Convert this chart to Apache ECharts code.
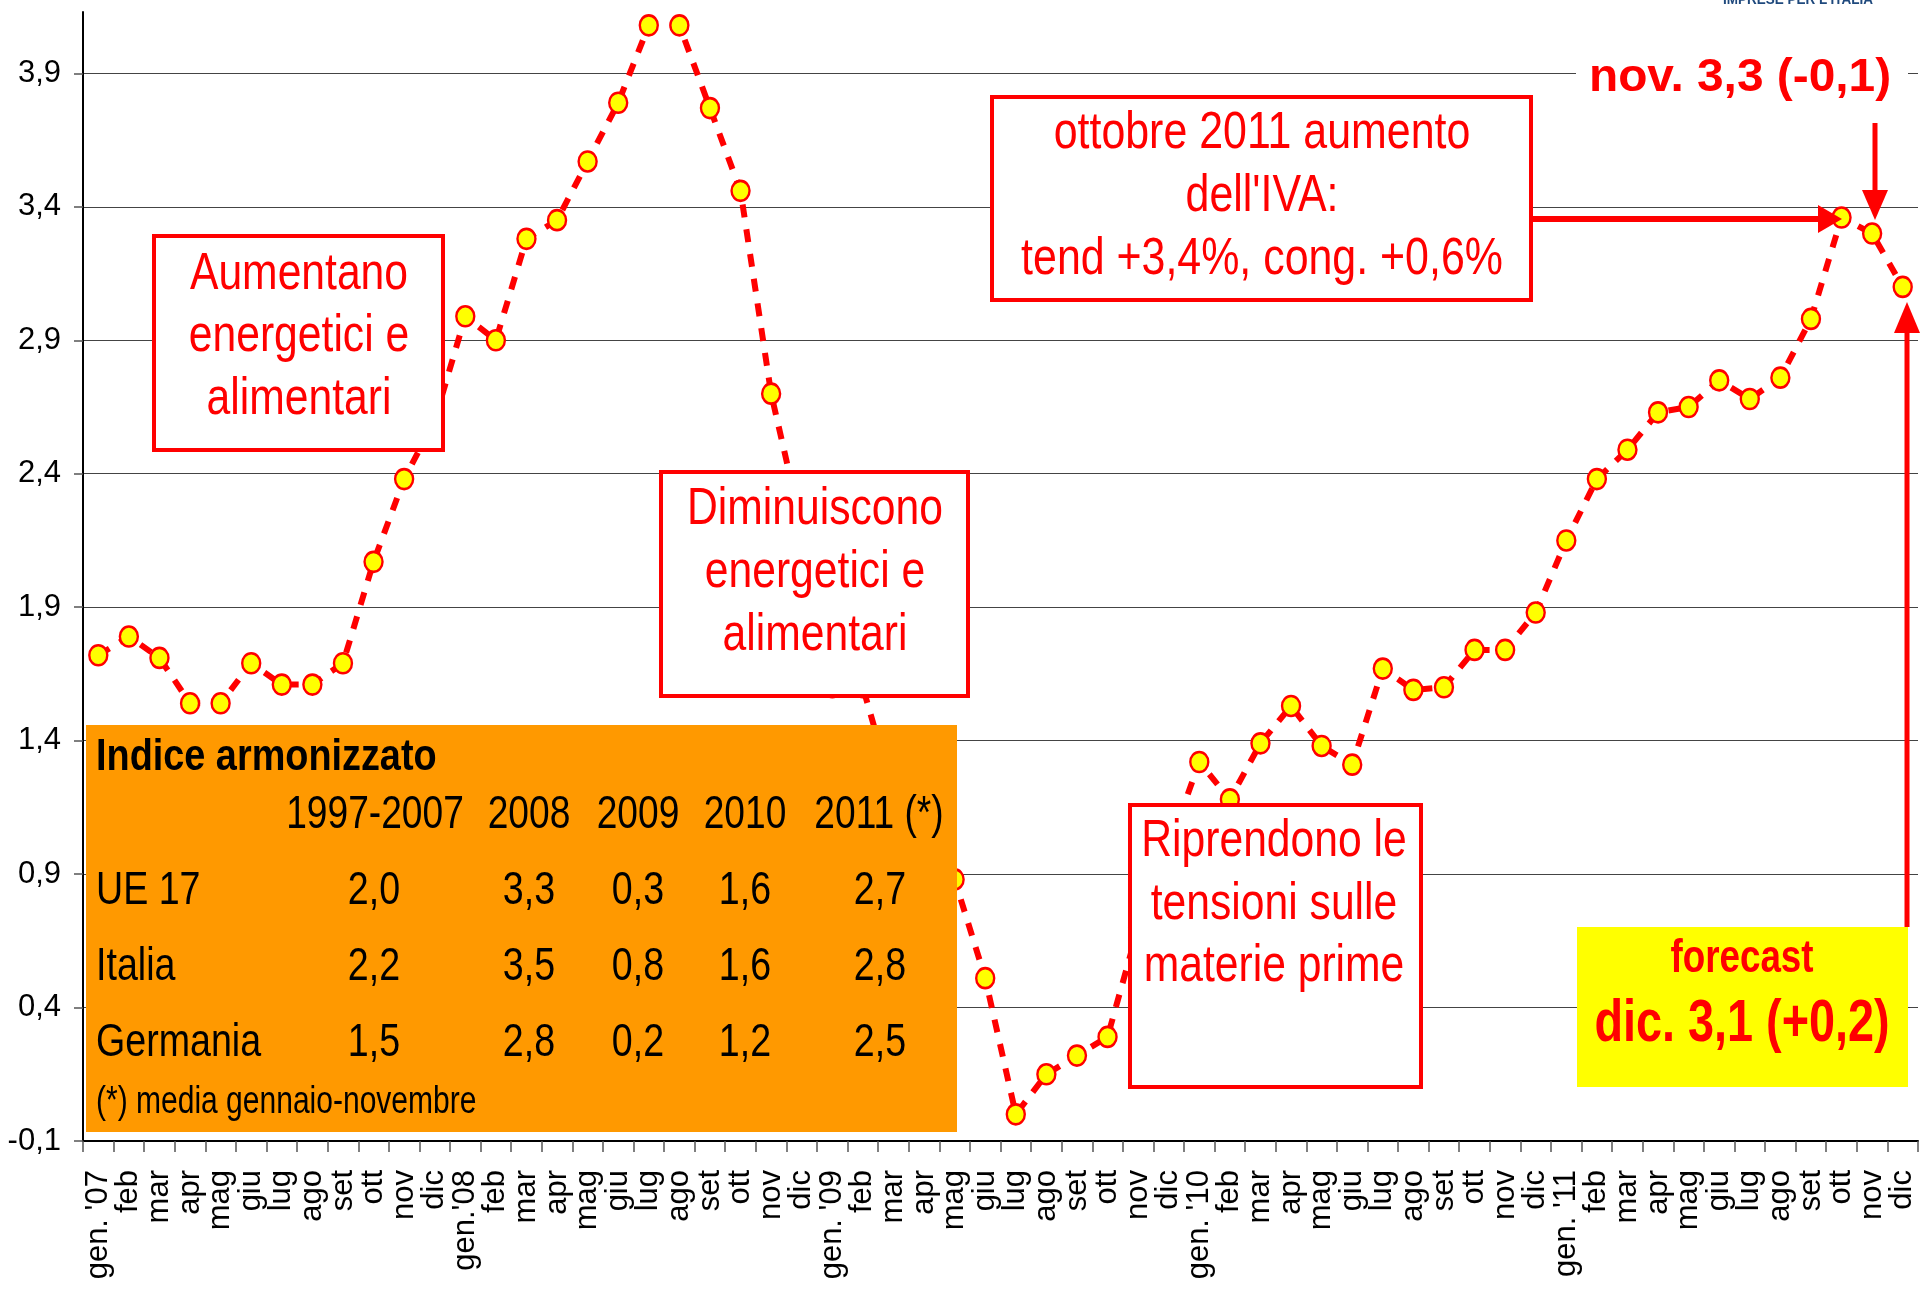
<!DOCTYPE html>
<html>
<head>
<meta charset="utf-8">
<script src="https://cdn.jsdelivr.net/npm/echarts@6/dist/echarts.min.js"></script>
<style>
html,body{margin:0;padding:0;background:#fff;}
#c{width:1921px;height:1289px;}
</style>
</head>
<body>
<div id="c"></div>
<script>
const months = ["gen. '07","feb","mar","apr","mag","giu","lug","ago","set","ott","nov","dic",
"gen.'08","feb","mar","apr","mag","giu","lug","ago","set","ott","nov","dic",
"gen. '09","feb","mar","apr","mag","giu","lug","ago","set","ott","nov","dic",
"gen. '10","feb","mar","apr","mag","giu","lug","ago","set","ott","nov","dic",
"gen. '11","feb","mar","apr","mag","giu","lug","ago","set","ott","nov","dic"];
const v2007 = [1.72,1.79,1.71,1.54,1.54,1.69,1.61,1.61,1.69,2.07,2.38,2.6];
const v2008 = [2.99,2.90,3.28,3.35,3.57,3.79,4.08,4.08,3.77,3.46,2.70,2.2];
const v2009 = [1.6,1.6,1.2,1.2,0.88,0.51,0.0,0.15,0.22,0.29,0.7,1.0];
const v2010 = [1.32,1.18,1.39,1.53,1.38,1.31,1.67,1.59,1.60,1.74,1.74,1.88];
const v2011 = [2.15,2.38,2.49,2.63,2.65,2.75,2.68,2.76,2.98,3.36,3.30,3.10];
const yTicks = [-0.1,0.4,0.9,1.4,1.9,2.4,2.9,3.4,3.9];

const tableTitle = "Indice armonizzato";
const tableYears = ["1997-2007","2008","2009","2010","2011 (*)"];
const tableRows = ["UE 17","Italia","Germania"];
const ue17 = ["2,0","3,3","0,3","1,6","2,7"];
const italia = ["2,2","3,5","0,8","1,6","2,8"];
const germania = ["1,5","2,8","0,2","1,2","2,5"];
const tableNote = "(*) media gennaio-novembre";

const values = [].concat(v2007, v2008, v2009, v2010, v2011);
const FONT = '"Liberation Sans", Arial, sans-serif';
const RED = '#FF0000';

function txt(x, y, text, size, opts) {
  opts = opts || {};
  return {
    type: 'text', x: x, y: y, z: 120,
    scaleX: opts.sx || 1, scaleY: opts.sy || 1,
    style: {
      text: text, fontSize: size, fontFamily: FONT,
      fontWeight: opts.bold ? 'bold' : 'normal',
      fill: opts.color || RED,
      align: opts.align || 'center', verticalAlign: 'middle'
    }
  };
}
function box(x, y, w, h, fill, stroke) {
  return {
    type: 'rect', z: 110,
    shape: {x: x, y: y, width: w, height: h},
    style: {fill: fill, stroke: stroke || null, lineWidth: stroke ? 4 : 0}
  };
}
function line(x1, y1, x2, y2, w) {
  return {type: 'line', z: 115, shape: {x1: x1, y1: y1, x2: x2, y2: y2},
    style: {stroke: RED, lineWidth: w}};
}
function poly(pts) {
  return {type: 'polygon', z: 115, shape: {points: pts}, style: {fill: RED}};
}

const g = [];
// logo text (cut at top)
g.push({type:'text', x:1798, y:7, z:120, scaleX:0.9, style:{text:"IMPRESE PER L'ITALIA", fontSize:15, fontWeight:'bold', fontFamily:FONT, fill:'#1F497D', align:'center', verticalAlign:'bottom'}});

// Box 1
g.push(box(154, 236, 289, 214, '#fff', RED));
g.push(txt(299, 275, "Aumentano", 52, {sx:0.82}));
g.push(txt(299, 337, "energetici e", 52, {sx:0.82}));
g.push(txt(299, 400, "alimentari", 52, {sx:0.82}));
// Box 2
g.push(box(661, 472, 307, 224, '#fff', RED));
g.push(txt(815, 510, "Diminuiscono", 52, {sx:0.82}));
g.push(txt(815, 573, "energetici e", 52, {sx:0.82}));
g.push(txt(815, 636, "alimentari", 52, {sx:0.82}));
// Box 3
g.push(box(992, 97, 539, 203, '#fff', RED));
g.push(txt(1262, 134, "ottobre 2011 aumento", 52, {sx:0.825}));
g.push(txt(1262, 197, "dell'IVA:", 52, {sx:0.825}));
g.push(txt(1262, 260, "tend +3,4%, cong. +0,6%", 52, {sx:0.825}));
// Box 4
g.push(box(1130, 805, 291, 282, '#fff', RED));
g.push(txt(1274, 842, "Riprendono le", 52, {sx:0.82}));
g.push(txt(1274, 905, "tensioni sulle", 52, {sx:0.82}));
g.push(txt(1274, 967, "materie prime", 52, {sx:0.82}));
// yellow forecast box
g.push(box(1577, 927, 331, 160, '#FFFF00'));
g.push(txt(1742, 959, "forecast", 46, {sx:0.8, bold:true}));
g.push(txt(1742, 1024, "dic. 3,1 (+0,2)", 60, {sx:0.78, bold:true}));
// nov label
g.push(box(1576, 52, 332, 50, '#fff'));
g.push(txt(1740, 78, "nov. 3,3 (-0,1)", 46, {sx:1.04, bold:true}));
// arrows
g.push(line(1531, 219, 1822, 219, 6));
g.push(poly([[1818,205],[1842,219],[1818,233]]));
g.push(line(1875, 123, 1875, 195, 5));
g.push(poly([[1862,190],[1875,220],[1888,190]]));
g.push(line(1907, 927, 1907, 328, 5));
g.push(poly([[1894,333],[1907,302],[1920,333]]));

// orange table
g.push(box(86, 725, 871, 407, '#FF9900'));
g.push(txt(96, 758, tableTitle, 44, {sx:0.86, bold:true, color:'#000', align:'left'}));
const colX = [375, 529, 638, 745, 879];
tableYears.forEach((t, i) => g.push(txt(colX[i], 815, t, 47, {sx:0.79, color:'#000'})));
const rowY = [891, 967, 1043];
const rowVals = [ue17, italia, germania];
tableRows.forEach((r, j) => {
  g.push(txt(96, rowY[j], r, 47, {sx:0.8, color:'#000', align:'left'}));
  rowVals[j].forEach((v, i) => g.push(txt(colX[i] + (i===0?-1:(i===4?1:0)), rowY[j], v, 47, {sx:0.8, color:'#000'})));
});
g.push(txt(96, 1103, tableNote, 38, {sx:0.79, color:'#000', align:'left'}));

const chart = echarts.init(document.getElementById('c'), null, {renderer: 'canvas'});
chart.setOption({
  animation: false,
  backgroundColor: '#fff',
  grid: {left: 83, right: 3, top: 12, bottom: 148, containLabel: false},
  xAxis: {
    type: 'category', data: months, boundaryGap: true,
    axisLine: {show: true, onZero: false, lineStyle: {color: '#000', width: 2}},
    axisTick: {show: true, interval: 0, length: 11, lineStyle: {color: '#555', width: 1.5}},
    axisLabel: {interval: 0, rotate: 90, margin: 29, fontSize: 31, fontFamily: FONT, color: '#000'},
    splitLine: {show: false}
  },
  yAxis: {
    type: 'value', min: -0.1, max: 4.13,
    axisLine: {show: true, lineStyle: {color: '#000', width: 2}},
    axisTick: {show: true, customValues: yTicks, length: 9, lineStyle: {color: '#555', width: 1.5}},
    axisLabel: {customValues: yTicks, margin: 22, fontSize: 31, fontFamily: FONT, color: '#000',
      formatter: v => (Math.round(v*10)/10).toFixed(1).replace('.', ',')},
    splitLine: {show: true, lineStyle: {color: '#444', width: 1.2}}
  },
  series: [{
    type: 'line', data: values, clip: false,
    symbol: 'circle', symbolSize: [18, 20],
    itemStyle: {color: '#FFFF00', borderColor: '#FF0000', borderWidth: 2.5},
    lineStyle: {color: '#FF0000', width: 6, type: [13, 12], cap: 'butt'},
    emphasis: {disabled: true}, z: 5
  }],
  graphic: g
});
</script>
</body>
</html>
